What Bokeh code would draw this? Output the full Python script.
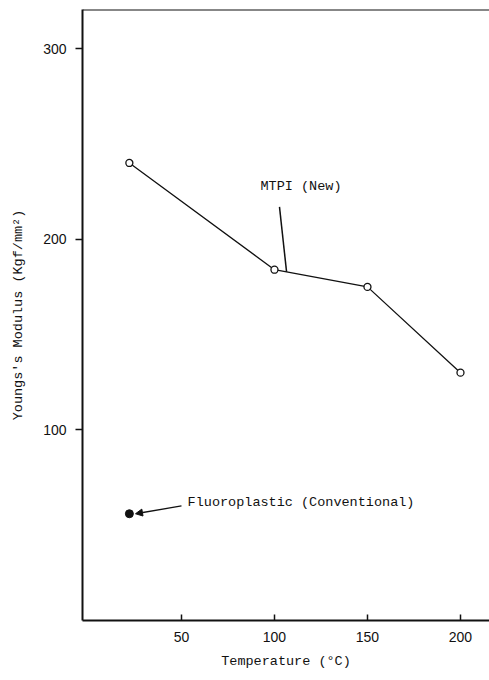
from bokeh.plotting import figure
from bokeh.embed import file_html
from bokeh.resources import INLINE
from bokeh.models import Range1d, FixedTicker, Span, Arrow, NormalHead
from bokeh.core.properties import value
import numpy as np

# ---- data ----
temperature = [22, 100, 150, 200]
mtpi_modulus = [240, 184, 175, 130]
fluoro_temperature = [22]
fluoro_modulus = [56]
x_ticks = [50, 100, 150, 200]
y_ticks = [100, 200, 300]

MONO = "Liberation Mono"
INK = "#111111"

p = figure(width=489, height=680, output_backend="svg", toolbar_location=None,
           x_range=Range1d(-3.2, 215.6), y_range=Range1d(0, 320.5),
           min_border_left=82, min_border_right=0, min_border_top=9, min_border_bottom=60)
p.outline_line_color = None
p.background_fill_color = "white"
p.border_fill_color = "white"
p.grid.visible = False

# x axis
xa = p.xaxis[0]
xa.ticker = FixedTicker(ticks=x_ticks)
xa.axis_label = "Temperature (°C)"
xa.axis_label_text_font = MONO
xa.axis_label_text_font_style = "normal"
xa.axis_label_text_font_size = "13.5px"
xa.axis_label_text_color = INK
xa.axis_label_standoff = 9
xa.major_label_text_font = "Liberation Sans"
xa.major_label_text_font_size = "14px"
xa.major_label_text_color = INK
xa.major_label_standoff = 11
xa.major_tick_in = 6
xa.major_tick_out = 0
xa.minor_tick_line_color = None
xa.axis_line_width = 2
xa.axis_line_color = INK
xa.major_tick_line_color = INK
xa.major_tick_line_width = 1.5

# y axis
ya = p.yaxis[0]
ya.ticker = FixedTicker(ticks=y_ticks)
ya.axis_label = "Youngs's Modulus (Kgf/mm²)"
ya.axis_label_text_font = MONO
ya.axis_label_text_font_style = "normal"
ya.axis_label_text_font_size = "13.5px"
ya.axis_label_text_color = INK
ya.axis_label_standoff = 14
ya.major_label_text_font = "Liberation Sans"
ya.major_label_text_font_size = "14px"
ya.major_label_text_color = INK
ya.major_label_standoff = 9
ya.major_label_orientation = "horizontal"
ya.major_tick_in = 0
ya.major_tick_out = 7
ya.minor_tick_line_color = None
ya.axis_line_width = 2
ya.axis_line_color = INK
ya.major_tick_line_color = INK
ya.major_tick_line_width = 1.5

# top border line
p.add_layout(Span(location=320.5, dimension="width", line_color=INK, line_width=2))

# MTPI series
p.line(temperature, mtpi_modulus, line_color=INK, line_width=1.3)
p.scatter(temperature, mtpi_modulus, marker="circle", size=7, fill_color="white",
          line_color=INK, line_width=1.3)

# Fluoroplastic point
p.scatter(fluoro_temperature, fluoro_modulus, marker="circle", size=8,
          fill_color=INK, line_color=INK)

# MTPI label and leader line
lead_x = 106.5
lead_y = float(np.interp(lead_x, temperature, mtpi_modulus))
p.line([102.7, lead_x], [217, lead_y], line_color=INK, line_width=1.5)
p.text(x=[92.5], y=[227.6], text=["MTPI (New)"], text_font=value(MONO),
       text_font_size="13.5px", text_color=INK, text_baseline="middle", text_align="left")

# Fluoroplastic label and arrow
p.add_layout(Arrow(end=NormalHead(size=7, fill_color=INK, line_color=INK),
                   x_start=50.0, y_start=60.1,
                   x_end=fluoro_temperature[0] + 3.3, y_end=fluoro_modulus[0],
                   line_color=INK, line_width=1.3))
p.text(x=[53.3], y=[61.7], text=["Fluoroplastic (Conventional)"], text_font=value(MONO),
       text_font_size="13.5px", text_color=INK, text_baseline="middle", text_align="left")

open("out.html", "w").write(file_html(p, INLINE))
